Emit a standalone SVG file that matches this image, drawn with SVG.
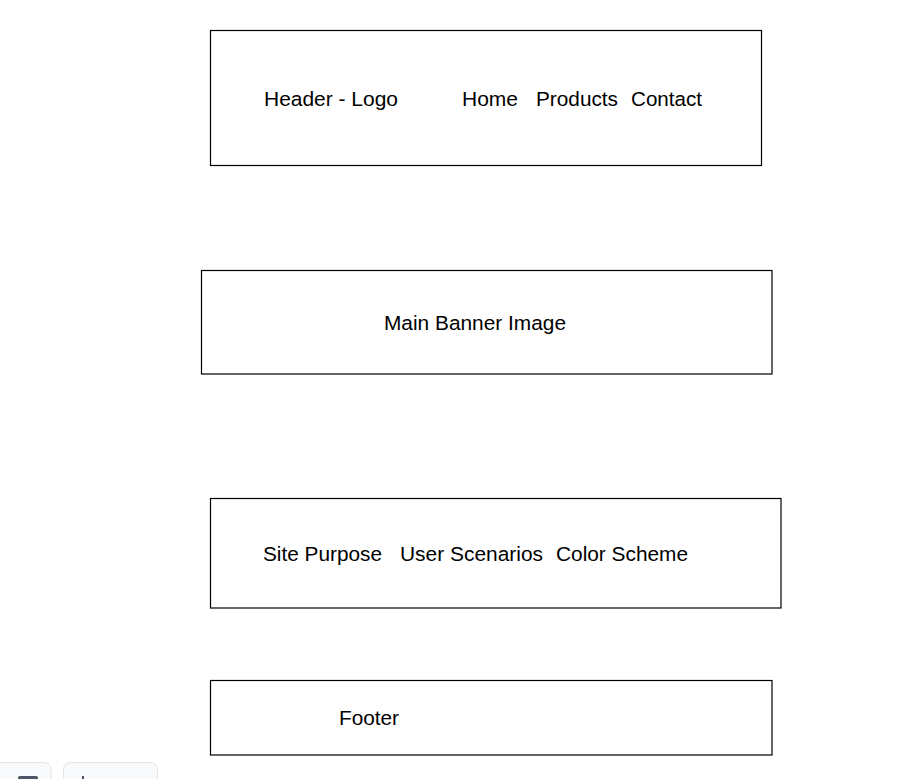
<svg xmlns="http://www.w3.org/2000/svg" width="924" height="779" viewBox="0 0 924 779">
<style>
.box{fill:#ffffff;stroke:#000000;stroke-width:1.2}
.t{font-family:"Liberation Sans",Arial,sans-serif;font-size:20.5px;fill:#000000}
.ui{fill:#f9fafb;stroke:#e2e4e8;stroke-width:1}
</style>
<rect width="924" height="779" fill="#ffffff"/>
<g id="header">
<rect class="box" x="210.5" y="30.5" width="551" height="135"/>
<text class="t" x="264" y="106" textLength="134" lengthAdjust="spacingAndGlyphs">Header - Logo</text>
<text class="t" x="462" y="106" textLength="56" lengthAdjust="spacingAndGlyphs">Home</text>
<text class="t" x="536" y="106" textLength="82" lengthAdjust="spacingAndGlyphs">Products</text>
<text class="t" x="631" y="106" textLength="71" lengthAdjust="spacingAndGlyphs">Contact</text>
</g>
<g id="banner">
<rect class="box" x="201.5" y="270.5" width="570.5" height="103.5"/>
<text class="t" x="384" y="330" textLength="182" lengthAdjust="spacingAndGlyphs">Main Banner Image</text>
</g>
<g id="info">
<rect class="box" x="210.5" y="498.5" width="570.5" height="109.5"/>
<text class="t" x="263" y="561" textLength="119" lengthAdjust="spacingAndGlyphs">Site Purpose</text>
<text class="t" x="400" y="561" textLength="143" lengthAdjust="spacingAndGlyphs">User Scenarios</text>
<text class="t" x="556" y="561" textLength="132" lengthAdjust="spacingAndGlyphs">Color Scheme</text>
</g>
<g id="footer">
<rect class="box" x="210.5" y="680.5" width="561.5" height="74.5"/>
<text class="t" x="339" y="725" textLength="60" lengthAdjust="spacingAndGlyphs">Footer</text>
</g>
<g id="connectors"></g>
<g id="toolbar">
<rect class="ui" x="-10" y="762.5" width="61" height="30" rx="7"/>
<rect class="ui" x="63.5" y="762.5" width="94" height="30" rx="7"/>
<rect x="18" y="776" width="20" height="5" rx="2" fill="#4b5563"/>
<rect x="82" y="776" width="2" height="3" fill="#4b5563"/>
</g>
</svg>
